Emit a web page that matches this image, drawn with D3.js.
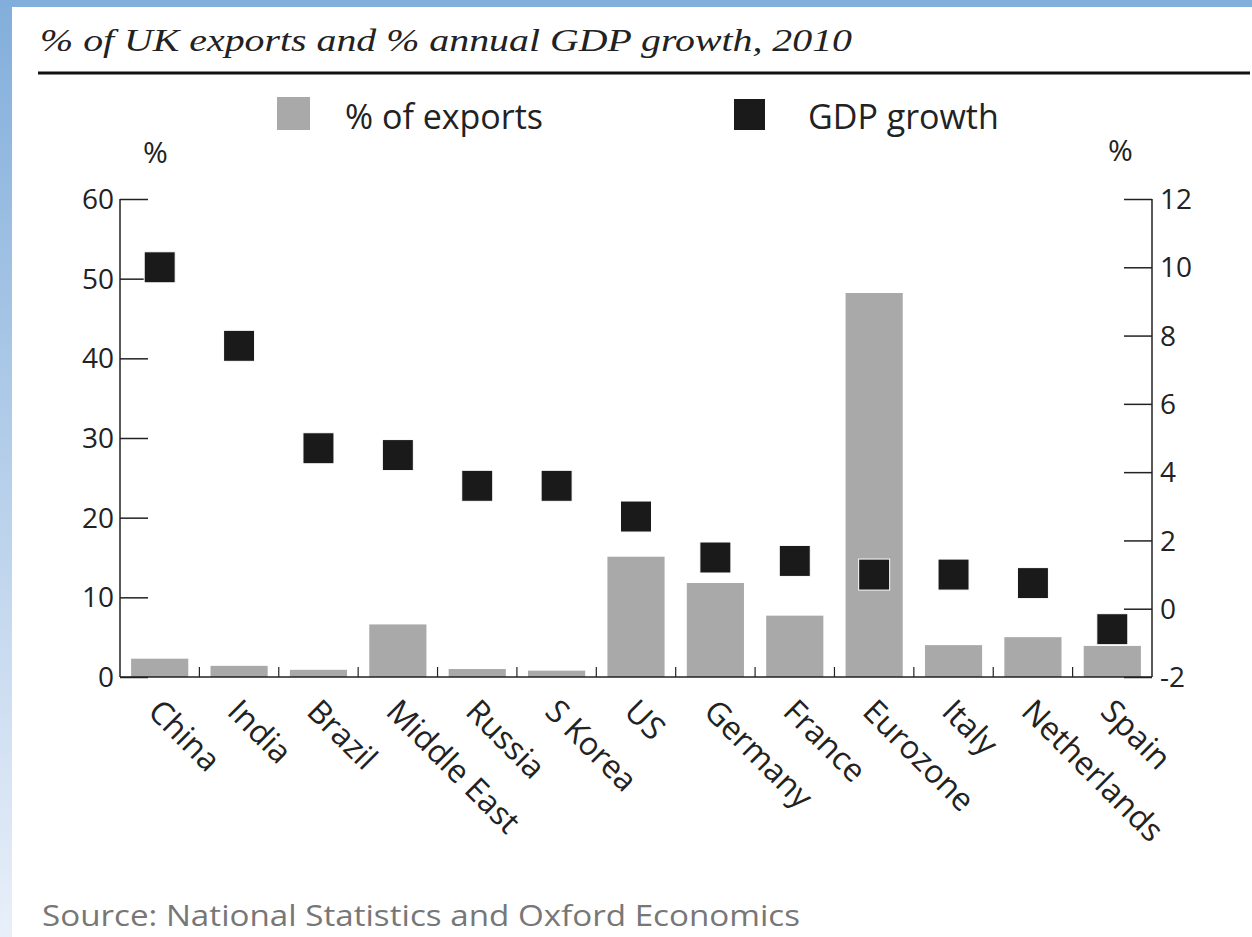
<!DOCTYPE html>
<html><head><meta charset="utf-8">
<script src="https://cdn.jsdelivr.net/npm/d3@7"></script>
<style>body{margin:0;background:#fff}svg{display:block}</style>
</head><body>
<svg id="chart" width="1252" height="937"></svg>
<script>
const categories = ["China","India","Brazil","Middle East","Russia","S Korea","US","Germany","France","Eurozone","Italy","Netherlands","Spain"];
const exportsPct = [2.3,1.4,0.9,6.6,1.0,0.8,15.1,11.8,7.7,48.2,4.0,5.0,3.9];
const gdpGrowth = [10.0,7.7,4.7,4.5,3.6,3.6,2.7,1.5,1.4,1.0,1.0,0.75,-0.6];
const leftTicks = [0,10,20,30,40,50,60];
const rightTicks = [-2,0,2,4,6,8,10,12];

(function(){
const svg = d3.select("#chart");
const W = 1252, H = 937;
const sans = "'Open Sans', 'Noto Sans', sans-serif";

// frame
const defs = svg.append("defs");
const g1 = defs.append("linearGradient").attr("id","lg").attr("x1",0).attr("y1",0).attr("x2",0).attr("y2",1);
g1.append("stop").attr("offset","0%").attr("stop-color","#82aedb");
g1.append("stop").attr("offset","100%").attr("stop-color","#e8eff9");
svg.append("rect").attr("x",0).attr("y",0).attr("width",W).attr("height",H).attr("fill","#fff");
svg.append("rect").attr("x",0).attr("y",0).attr("width",12).attr("height",H).attr("fill","url(#lg)");
svg.append("rect").attr("x",0).attr("y",0).attr("width",W).attr("height",7).attr("fill","#82aedb");

// title
svg.append("text").attr("x",40).attr("y",51)
  .attr("font-family","'Liberation Serif', 'DejaVu Serif', serif").attr("font-style","italic")
  .attr("font-size",31).attr("fill","#222")
  .attr("textLength",812).attr("lengthAdjust","spacingAndGlyphs")
  .text("% of UK exports and % annual GDP growth, 2010");
svg.append("line").attr("x1",38).attr("x2",1250).attr("y1",73).attr("y2",73).attr("stroke","#111").attr("stroke-width",3);

const pl = 120, pr = 1152, pt = 199, pb = 677;
const x = d3.scaleBand().domain(categories).range([pl,pr]).paddingInner(0.28).paddingOuter(0.14);
const xb = d3.scaleBand().domain(categories).range([pl,pr]);
const yL = d3.scaleLinear().domain([0,60]).range([pb,pt]);
const yR = d3.scaleLinear().domain([-2,12]).range([pb,pt]);

// bars
svg.append("g").selectAll("rect").data(categories).join("rect")
  .attr("x",d=>x(d)).attr("width",x.bandwidth())
  .attr("y",(d,i)=>yL(exportsPct[i])).attr("height",(d,i)=>pb-yL(exportsPct[i]))
  .attr("fill","#a9a9a9");

// axes
const axL = svg.append("g").attr("transform",`translate(${pl},0)`)
  .call(d3.axisRight(yL).tickValues(leftTicks).tickSize(28).tickFormat(""));
axL.select(".domain").remove();
axL.selectAll("line").attr("stroke","#222").attr("stroke-width",1.5);
svg.append("line").attr("x1",pl).attr("x2",pl).attr("y1",pt).attr("y2",pb).attr("stroke","#222").attr("stroke-width",1.5);
svg.append("g").selectAll("text").data(leftTicks).join("text")
  .attr("x",114).attr("y",d=>yL(d)).attr("dy","0.36em").attr("text-anchor","end")
  .attr("font-family",sans).attr("font-size",28).attr("fill","#222").text(d=>d);

const axR = svg.append("g").attr("transform",`translate(${pr},0)`)
  .call(d3.axisLeft(yR).tickValues(rightTicks).tickSize(28).tickFormat(""));
axR.select(".domain").remove();
axR.selectAll("line").attr("stroke","#222").attr("stroke-width",1.5);
svg.append("line").attr("x1",pr).attr("x2",pr).attr("y1",pt).attr("y2",pb).attr("stroke","#222").attr("stroke-width",1.5);
svg.append("g").selectAll("text").data(rightTicks).join("text")
  .attr("x",1160).attr("y",d=>yR(d)).attr("dy","0.36em").attr("text-anchor","start")
  .attr("font-family",sans).attr("font-size",28).attr("fill","#222").text(d=>d);

// bottom axis
svg.append("line").attr("x1",pl).attr("x2",pr).attr("y1",pb).attr("y2",pb).attr("stroke","#222").attr("stroke-width",1.5);
svg.append("g").selectAll("line").data(categories.slice(1)).join("line")
  .attr("x1",d=>xb(d)).attr("x2",d=>xb(d)).attr("y1",pb).attr("y2",pb-10)
  .attr("stroke","#222").attr("stroke-width",1.2);

// x labels
svg.append("g").selectAll("text").data(categories).join("text")
  .attr("transform",d=>`translate(${xb(d)+xb.bandwidth()/2+6},${pb+17}) rotate(45)`)
  .attr("font-family",sans).attr("font-size",32).attr("fill","#222")
  .attr("dominant-baseline","hanging").text(d=>d);

// markers
const ms = 31;
svg.append("g").selectAll("rect").data(categories).join("rect")
  .attr("x",d=>xb(d)+xb.bandwidth()/2-ms/2).attr("y",(d,i)=>yR(gdpGrowth[i])-ms/2)
  .attr("width",ms).attr("height",ms).attr("fill","#1a1a1a").attr("stroke","#fff").attr("stroke-width",1);

// unit labels
svg.append("text").attr("x",143).attr("y",163).attr("font-family",sans).attr("font-size",30).attr("fill","#222").text("%");
svg.append("text").attr("x",1108).attr("y",161).attr("font-family",sans).attr("font-size",30).attr("fill","#222").text("%");

// legend
svg.append("rect").attr("x",277).attr("y",97).attr("width",33).attr("height",33).attr("fill","#a9a9a9");
svg.append("text").attr("x",345).attr("y",129).attr("font-family",sans).attr("font-size",34).attr("fill","#222").text("% of exports");
svg.append("rect").attr("x",734).attr("y",99).attr("width",31).attr("height",31).attr("fill","#1a1a1a");
svg.append("text").attr("x",808).attr("y",129).attr("font-family",sans).attr("font-size",34).attr("fill","#222").text("GDP growth");

// source
svg.append("text").attr("x",42).attr("y",926).attr("font-family",sans).attr("font-size",29).attr("fill","#777")
  .attr("textLength",758).attr("lengthAdjust","spacingAndGlyphs")
  .text("Source: National Statistics and Oxford Economics");
})();
</script>
</body></html>
